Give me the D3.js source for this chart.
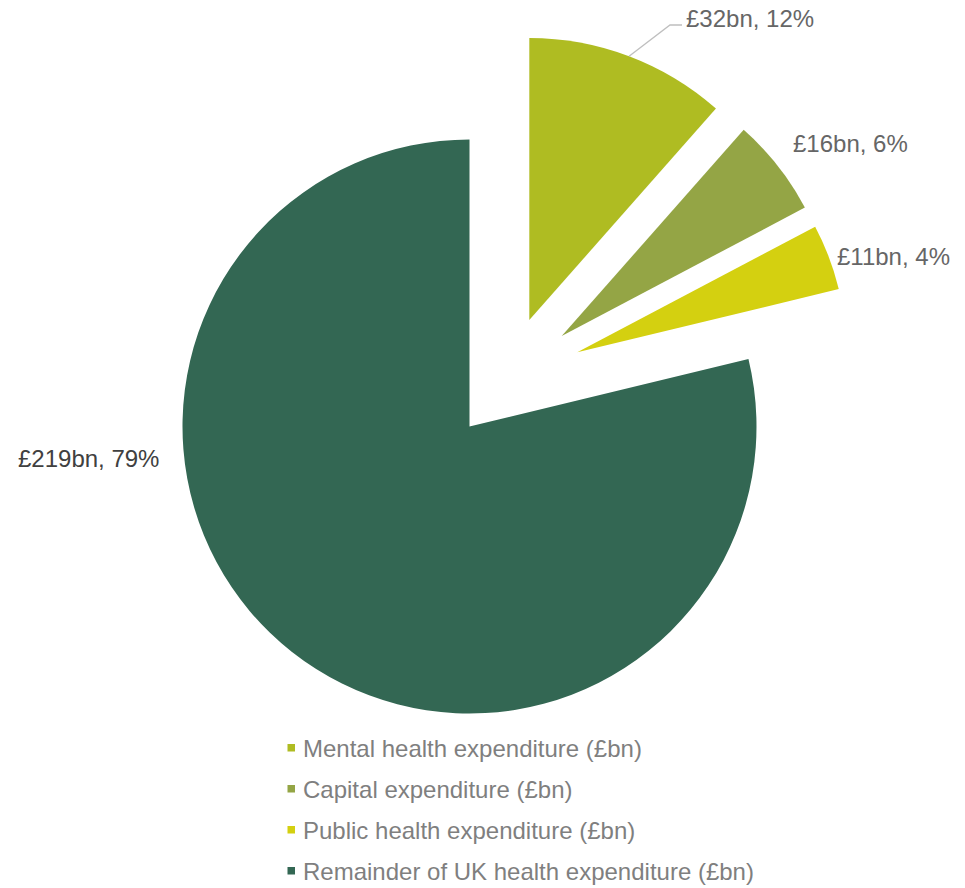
<!DOCTYPE html>
<html>
<head>
<meta charset="utf-8">
<script src="https://cdn.jsdelivr.net/npm/d3@7"></script>
<style>
  html, body { margin: 0; padding: 0; background: #ffffff; }
  svg { display: block; }
  text { font-family: "Liberation Sans", Arial, sans-serif; }
</style>
</head>
<body>
<svg id="chart" width="965" height="888"></svg>
<script>
// UK health expenditure breakdown (£bn)
const categories = [
  "Mental health expenditure (£bn)",
  "Capital expenditure (£bn)",
  "Public health expenditure (£bn)",
  "Remainder of UK health expenditure (£bn)"
];
const values = [32, 16, 11, 219];
const percentLabels = ["12%", "6%", "4%", "79%"];
const colors = ["#afbc22", "#94a545", "#d4d010", "#336753"];

// layout: pie centre, per-slice radius and explode shift, label anchors
const W = 965, H = 888;
const cx = 469.5, cy = 426.5;
const sliceRadius = [282, 275, 269, 287];
const explodeShift = [[59.8, -106.5], [92.2, -90.5], [107.8, -74.2], [0, 0]];
const labelPos = [[686, 27], [793, 152], [837, 265], [18, 467]];
const labelColor = ["#666666", "#666666", "#666666", "#404040"];

const svg = d3.select("#chart");
const g = svg.append("g").attr("transform", `translate(${cx},${cy})`);

const pie = d3.pie().sort(null).value(d => d).startAngle(0).endAngle(2 * Math.PI);
const arcs = pie(values);

arcs.forEach((a, i) => {
  const arc = d3.arc().innerRadius(0).outerRadius(sliceRadius[i]);
  g.append("path")
    .attr("d", arc(a))
    .attr("transform", `translate(${explodeShift[i][0]},${explodeShift[i][1]})`)
    .attr("fill", colors[i]);
});

// leader line for the first slice: from the middle of its outer arc to the label
{
  const a = arcs[0];
  const mid = (a.startAngle + a.endAngle) / 2;
  const r = sliceRadius[0];
  const x0 = cx + explodeShift[0][0] + r * Math.sin(mid);
  const y0 = cy + explodeShift[0][1] - r * Math.cos(mid);
  const ly = labelPos[0][1] - 2;
  svg.append("path")
    .attr("d", `M${x0},${y0} L${labelPos[0][0] - 16},${ly} L${labelPos[0][0] - 4},${ly}`)
    .attr("fill", "none")
    .attr("stroke", "#bfbfbf")
    .attr("stroke-width", 1.3);
}

// data labels
arcs.forEach((a, i) => {
  svg.append("text")
    .attr("x", labelPos[i][0])
    .attr("y", labelPos[i][1])
    .attr("font-size", 24)
    .attr("fill", labelColor[i])
    .text(`£${values[i]}bn, ${percentLabels[i]}`);
});

// legend
const legend = svg.append("g").attr("transform", "translate(287.5,757)");
categories.forEach((c, i) => {
  const row = legend.append("g").attr("transform", `translate(0,${i * 41})`);
  row.append("rect")
    .attr("x", 0).attr("y", -13)
    .attr("width", 7.5).attr("height", 7.5)
    .attr("fill", colors[i]);
  row.append("text")
    .attr("x", 15.5).attr("y", 0)
    .attr("font-size", 24)
    .attr("fill", "#7f7f7f")
    .text(c);
});
</script>
</body>
</html>
